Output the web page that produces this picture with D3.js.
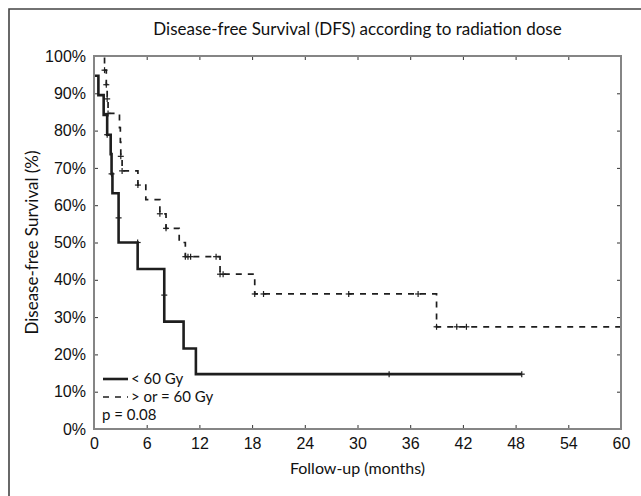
<!doctype html>
<html>
  <head>
    <script src="https://cdnjs.cloudflare.com/ajax/libs/d3/7.8.5/d3.min.js"></script>
  <style>
    body { margin: 0; background: #fff; }
    svg { font-family: Lato, "Open Sans", sans-serif; }
    .frame { fill: none; stroke: #444; stroke-width: 1.6; }
    .box { fill: none; stroke: #858585; stroke-width: 2; }
    path.domain { stroke: none; }
    .tick > line { stroke: #333; }
    .tick > text { fill: #111; font-size: 16px; }
    .low { fill: none; stroke: #1e1e1e; stroke-width: 2.6; }
    .high { fill: none; stroke: #1e1e1e; stroke-width: 1.7; stroke-dasharray: 6 6; }
    .cens { stroke: #1e1e1e; stroke-width: 1.2; }
    text { fill: #111; }
  </style>
  </head>
  <body>
    <svg width="641" height="496"></svg>
    <script>
      // tick labels
      var xTicks = [0, 6, 12, 18, 24, 30, 36, 42, 48, 54, 60];
      var yTicks = [0, 10, 20, 30, 40, 50, 60, 70, 80, 90, 100];

      // < 60 Gy : start level, drop times and levels after the drop (months, %)
      var lowStart = 94.7;
      var lowTimes = [0.5, 1.1, 1.5, 1.9, 2.0, 2.1, 2.8, 2.8, 4.97, 8.0, 8.0, 10.2, 11.6];
      var lowSurv = [89.5, 84.2, 78.9, 73.7, 68.4, 63.2, 56.6, 50.0, 42.9, 35.9, 28.8, 21.6, 14.7];
      var lowEnd = 48.7;
      var lowCensT = [1.5, 2.0, 2.8, 4.97, 8.0, 33.6, 48.7];
      var lowCensS = [78.9, 68.4, 56.6, 50.0, 35.9, 14.7, 14.7];

      // >= 60 Gy
      var highStart = 100;
      var highTimes = [1.2, 1.4, 1.5, 1.6, 2.9, 3.0, 3.05, 3.2, 5.0, 5.9, 7.5, 8.2, 9.7, 10.4, 14.35, 18.3, 39.0];
      var highSurv = [96.2, 92.3, 88.5, 84.6, 80.8, 76.9, 73.1, 69.2, 65.4, 61.5, 57.7, 53.8, 50.0, 46.2, 41.5, 36.2, 27.4];
      var highEnd = 60;
      var highCensT = [1.2, 1.4, 1.5, 1.6, 3.05, 3.2, 5.0, 7.5, 8.2, 10.4, 10.7, 11.0, 13.9, 14.35, 14.7, 18.3, 19.3, 29.0, 36.9, 39.0, 41.3, 42.4];
      var highCensS = [96.2, 92.3, 88.5, 84.6, 73.1, 69.2, 65.4, 57.7, 53.8, 46.2, 46.2, 46.2, 46.2, 41.5, 41.5, 36.2, 36.2, 36.2, 36.2, 27.4, 27.4, 27.4];

      var svg = d3.select("svg");
      var L = 94, R = 621, T = 56, B = 429;

      var xScale = d3.scaleLinear().domain([0, 60]).range([L, R]);
      var yScale = d3.scaleLinear().domain([0, 100]).range([B, T]);

      svg.append("path").attr("class", "frame").attr("d", "M9,496V9H641");

      // axes with inward ticks
      svg.append("g").attr("transform", `translate(0,${B})`)
        .call(d3.axisBottom(xScale).tickValues(xTicks).tickSizeInner(-4).tickSizeOuter(0).tickPadding(9));
      svg.append("g").attr("transform", `translate(0,${T})`)
        .call(d3.axisTop(xScale).tickValues(xTicks).tickSizeInner(-4).tickSizeOuter(0).tickFormat(""));
      svg.append("g").attr("transform", `translate(${L},0)`)
        .call(d3.axisLeft(yScale).tickValues(yTicks).tickSizeInner(-4).tickSizeOuter(0).tickPadding(8).tickFormat(d => d + "%"));
      svg.append("g").attr("transform", `translate(${R},0)`)
        .call(d3.axisRight(yScale).tickValues(yTicks).tickSizeInner(-4).tickSizeOuter(0).tickFormat(""));

      var stepLine = d3.line()
        .x(d => xScale(d[0]))
        .y(d => yScale(d[1]))
        .curve(d3.curveStepAfter);

      function steps(start, times, surv, end) {
        var pts = [[0, start]];
        times.forEach((t, i) => pts.push([t, surv[i]]));
        pts.push([end, surv[surv.length - 1]]);
        return pts;
      }

      function crosses(ts, ss) {
        var g = svg.append("g");
        ts.forEach((t, i) => {
          var cx = xScale(t), cy = yScale(ss[i]);
          g.append("line").attr("class", "cens").attr("x1", cx - 3).attr("x2", cx + 3).attr("y1", cy).attr("y2", cy);
          g.append("line").attr("class", "cens").attr("x1", cx).attr("x2", cx).attr("y1", cy - 3).attr("y2", cy + 3);
        });
      }

      svg.append("path").attr("class", "high").attr("d", stepLine(steps(highStart, highTimes, highSurv, highEnd)));
      svg.append("path").attr("class", "low").attr("d", stepLine(steps(lowStart, lowTimes, lowSurv, lowEnd)));
      crosses(highCensT, highCensS);
      crosses(lowCensT, lowCensS);

      svg.append("rect").attr("class", "box").attr("x", L).attr("y", T).attr("width", R - L).attr("height", B - T);

      // legend
      svg.append("line").attr("class", "low").attr("x1", 103).attr("x2", 128).attr("y1", 379).attr("y2", 379);
      svg.append("line").attr("class", "high").attr("x1", 103).attr("x2", 128).attr("y1", 397).attr("y2", 397);
      svg.append("text").attr("x", 131).attr("y", 384).style("font-size", "15px").text("< 60 Gy");
      svg.append("text").attr("x", 131).attr("y", 402).style("font-size", "15px").text("> or = 60 Gy");
      svg.append("text").attr("x", 102).attr("y", 420).style("font-size", "15px").text("p = 0.08");

      // titles
      svg.append("text").attr("x", (L + R) / 2).attr("y", 35).attr("text-anchor", "middle")
        .style("font-size", "17px").text("Disease-free Survival (DFS) according to radiation dose");
      svg.append("text").attr("x", (L + R) / 2).attr("y", 474).attr("text-anchor", "middle")
        .style("font-size", "16px").text("Follow-up (months)");
      svg.append("text").attr("transform", `translate(38,${(T + B) / 2}) rotate(-90)`).attr("text-anchor", "middle")
        .style("font-size", "17px").text("Disease-free Survival (%)");
    </script>
  </body>
</html>
